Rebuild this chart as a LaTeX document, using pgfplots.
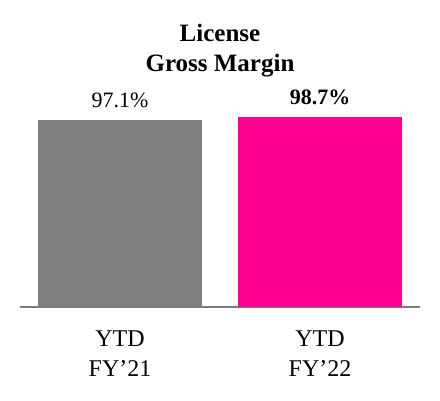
\documentclass[border=0pt]{standalone}
\usepackage{fontspec}
\setmainfont{Liberation Serif}
\usepackage{pgfplots}
\pgfplotsset{compat=1.18}
\definecolor{bargray}{HTML}{808080}
\definecolor{barpink}{HTML}{FF0090}
\definecolor{axgray}{HTML}{7A7A7A}
\begin{document}
\begin{tikzpicture}
\useasboundingbox (-20pt,-93pt) rectangle (420pt,307pt);
\begin{axis}[
  scale only axis,
  width=400pt, height=192.6pt,
  xmin=-0.5, xmax=1.5, ymin=0, ymax=100,
  axis x line*=bottom, axis y line=none,
  x axis line style={-, axgray, line width=1.6pt},
  xtick={0,1}, xticklabels={YTD\\FY’21, YTD\\FY’22},
  xtick style={draw=none},
  xticklabel style={align=center, anchor=north, inner sep=0pt, yshift=-19pt, font=\fontsize{24}{30}\selectfont},
  clip=false,
  ybar, bar width=164pt,
  point meta=explicit symbolic,
  nodes near coords,
  every node near coord/.append style={anchor=south, inner sep=0pt, yshift=12pt, font=\fontsize{22}{26}\selectfont, text=black},
]
\addplot[draw=none, fill=bargray, bar shift=0pt] coordinates {(0,97.1) [97.1\%]};
\addplot[draw=none, fill=barpink, bar shift=0pt] coordinates {(1,98.7) [\textbf{98.7\%}]};
\node[align=center, anchor=center, font=\fontsize{25}{30}\selectfont\bfseries] at (axis cs:0.5,0) [yshift=256pt] {License\\Gross Margin};
\end{axis}
\end{tikzpicture}
\end{document}
